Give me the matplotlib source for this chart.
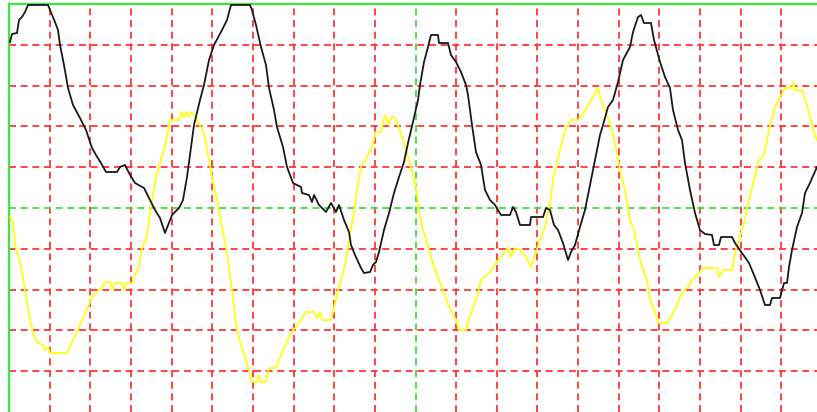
import numpy as np
import matplotlib
matplotlib.use("Agg")
import matplotlib.pyplot as plt

# Scope capture: time in samples, level in ADC counts (0 = bottom of screen)
black_t = [1, 3, 8, 10, 13, 16, 19, 39, 41, 46, 49, 51, 55, 59, 64, 71, 77, 83, 87, 92, 97, 108,
           111, 116, 120, 126, 135, 141, 146, 151, 156, 163, 170, 174, 178, 181, 185, 191, 195, 200,
           205, 213, 218, 222, 241, 243, 247, 252, 257, 260, 265, 268, 274, 278, 284, 292, 293, 300,
           303, 305, 310, 317, 322, 327, 330, 335, 340, 342, 346, 352, 355, 361, 364, 367, 370, 375,
           380, 385, 390, 395, 399, 404, 409, 411, 415, 419, 422, 429, 430, 439, 442, 447, 452, 457,
           459, 463, 467, 472, 476, 481, 486, 492, 501, 504, 507, 511, 521, 522, 534, 537, 541, 545,
           549, 554, 559, 562, 566, 571, 576, 581, 586, 591, 594, 599, 604, 609, 614, 621, 624, 629,
           632, 635, 642, 645, 651, 656, 661, 664, 669, 673, 676, 681, 686, 691, 696, 703, 705, 710,
           712, 723, 726, 733, 740, 745, 751, 756, 761, 763, 771, 775, 778, 780, 783, 788, 793, 796,
           800, 808]
black_v = [370, 378, 379, 392, 395, 400, 407, 407, 402, 390, 382, 367, 347, 324, 307, 294, 282, 264,
           257, 249, 240, 240, 245, 247, 239, 229, 224, 212, 202, 194, 179, 197, 204, 212, 235, 257,
           287, 312, 327, 352, 367, 382, 392, 407, 407, 402, 387, 365, 347, 324, 302, 285, 265, 245,
           229, 225, 219, 217, 210, 217, 207, 200, 209, 200, 207, 192, 180, 167, 157, 144, 139, 140,
           147, 150, 160, 182, 199, 219, 235, 250, 269, 290, 312, 327, 350, 365, 377, 377, 369, 369,
           357, 350, 340, 327, 317, 287, 260, 247, 222, 212, 207, 197, 197, 205, 200, 187, 187, 195,
           195, 204, 202, 187, 182, 169, 152, 160, 167, 185, 202, 227, 252, 277, 287, 305, 312, 330,
           352, 365, 380, 395, 397, 389, 389, 372, 350, 335, 324, 302, 282, 272, 249, 222, 199, 182,
           178, 177, 167, 167, 175, 175, 169, 159, 149, 137, 122, 107, 107, 114, 114, 129, 129, 145,
           162, 185, 199, 219, 227, 245]

yellow_t = [1, 4, 6, 9, 12, 16, 21, 24, 28, 34, 36, 39, 41, 58, 63, 68, 73, 79, 83, 88, 93, 96, 101,
            103, 106, 113, 115, 118, 123, 126, 130, 133, 137, 140, 143, 147, 151, 156, 161, 170, 172,
            175, 177, 180, 182, 185, 188, 195, 200, 203, 208, 213, 218, 223, 228, 233, 240, 243, 248,
            250, 252, 257, 260, 267, 270, 275, 280, 283, 292, 297, 305, 308, 311, 313, 322, 324, 329,
            333, 337, 340, 345, 348, 352, 359, 363, 367, 372, 376, 378, 380, 382, 385, 387, 390, 394,
            400, 407, 411, 415, 420, 425, 430, 435, 440, 447, 450, 457, 459, 464, 469, 472, 481, 487,
            492, 499, 502, 506, 511, 517, 522, 526, 531, 536, 541, 544, 547, 551, 556, 562, 569, 576,
            581, 584, 589, 591, 596, 601, 606, 611, 616, 621, 625, 629, 633, 638, 641, 646, 649, 658,
            663, 668, 673, 679, 683, 691, 693, 708, 710, 714, 723, 726, 730, 735, 740, 745, 750, 755,
            760, 765, 771, 776, 783, 784, 786, 793, 798, 801, 806, 808]
yellow_v = [195, 190, 167, 157, 145, 122, 92, 79, 70, 67, 62, 65, 59, 59, 70, 80, 92, 105, 115, 120,
            125, 130, 130, 122, 129, 129, 122, 129, 129, 137, 145, 164, 172, 192, 212, 235, 249, 265,
            292, 292, 300, 295, 300, 295, 300, 297, 292, 279, 252, 235, 212, 185, 159, 122, 82, 64,
            42, 30, 30, 37, 30, 30, 44, 44, 52, 64, 75, 80, 92, 100, 100, 94, 100, 92, 92, 100, 122,
            135, 152, 172, 199, 222, 245, 257, 265, 280, 280, 297, 292, 287, 295, 295, 292, 284, 272,
            252, 225, 195, 179, 162, 145, 132, 119, 105, 92, 82, 82, 90, 104, 119, 132, 140, 149,
            155, 164, 155, 164, 162, 155, 145, 157, 172, 185, 209, 232, 245, 262, 282, 292, 292, 301,
            310, 315, 324, 315, 302, 289, 269, 242, 222, 192, 182, 162, 145, 132, 112, 100, 89, 89,
            97, 107, 119, 125, 132, 140, 144, 144, 135, 142, 142, 159, 172, 189, 212, 232, 252, 257,
            282, 302, 315, 324, 324, 330, 322, 322, 307, 295, 277, 272]

div_t = 40.65   # samples per horizontal division
div_v = 40.8    # counts per vertical division
n_div_t = 20
n_div_v = 10

plt.rcParams['lines.scale_dashes'] = False

fig = plt.figure(figsize=(8.17, 4.12), dpi=100)
ax = fig.add_axes([9 / 817, 0, 808 / 817, 408 / 412])
ax.set_xlim(0, 808)
ax.set_ylim(0, n_div_v * div_v)

# graticule
for k in range(1, n_div_t):
    c = '#3ce03c' if k == n_div_t // 2 else '#ff3535'
    ax.axvline(k * div_t, color=c, lw=1.3, dashes=(5, 3.4), zorder=1)
for k in range(1, n_div_v):
    c = '#3ce03c' if k == n_div_v // 2 else '#ff3535'
    ax.axhline(k * div_v, color=c, lw=1.3, dashes=(5, 3.4), zorder=1)

ax.plot(yellow_t, yellow_v, color='#ffff10', lw=1.3, zorder=3)
ax.plot(black_t, black_v, color='#1a1a1a', lw=1.3, zorder=4)

ax.set_xticks([])
ax.set_yticks([])
for side in ['bottom', 'right']:
    ax.spines[side].set_visible(False)
for side in ['left', 'top']:
    ax.spines[side].set_color('#3ce83c')
    ax.spines[side].set_linewidth(1.6)

fig.savefig('out.png', dpi=100, facecolor='white')
